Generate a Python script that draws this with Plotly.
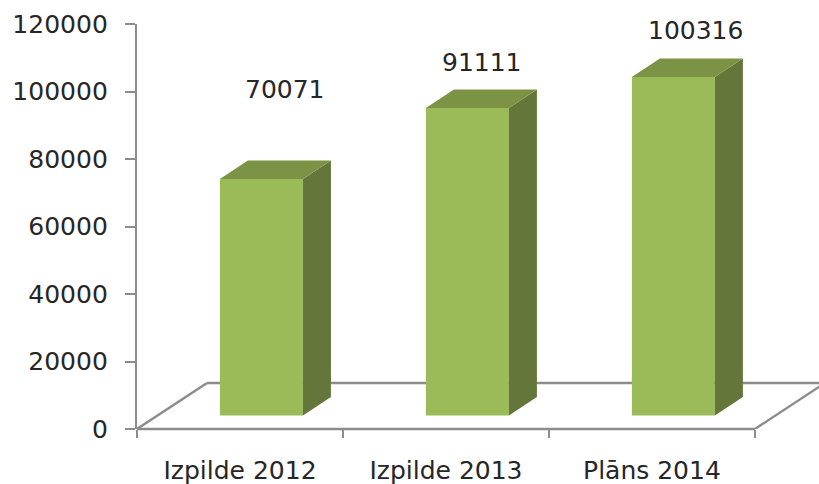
import plotly.graph_objects as go

categories = ["Izpilde 2012", "Izpilde 2013", "Plāns 2014"]
values = [70071, 91111, 100316]
y_ticks = [0, 20000, 40000, 60000, 80000, 100000, 120000]
cat_boundaries = [-0.5, 0.5, 1.5, 2.5]

# pseudo-3D geometry, in axis units
BASE = 4000
BAR_SHIFT = 0.104
BAR_W = 0.403
DEPTH_X = 0.136
DEPTH_Y = 5480
FLOOR_X = 0.34
FLOOR_Y = 13630
X_END = 2.811

FRONT, SIDE, TOP = "#9BBB59", "#64763A", "#7C9345"
AXIS = "#8C8C8C"
TEXT = "#262626"
FONT = "DejaVu Sans"
FS = 25

idx = list(range(len(categories)))
centres = [i + BAR_SHIFT for i in idx]

side_x, side_y, top_x, top_y = [], [], [], []
for c, v in zip(centres, values):
    r, l, t = c + BAR_W / 2, c - BAR_W / 2, BASE + v
    side_x += [r, r + DEPTH_X, r + DEPTH_X, r, r, None]
    side_y += [BASE, BASE + DEPTH_Y, t + DEPTH_Y, t, BASE, None]
    top_x += [l, r, r + DEPTH_X, l + DEPTH_X, l, None]
    top_y += [t, t, t + DEPTH_Y, t + DEPTH_Y, t, None]

fig = go.Figure()
fig.add_trace(go.Bar(x=centres, y=values, base=BASE, width=BAR_W,
                     marker=dict(color=FRONT, line=dict(width=0)), hoverinfo="skip"))
for xs, ys, col in ((side_x, side_y, SIDE), (top_x, top_y, TOP)):
    fig.add_trace(go.Scatter(x=xs, y=ys, mode="lines", fill="toself", fillcolor=col,
                             line=dict(width=0, color=col), hoverinfo="skip"))

line = dict(color=AXIS, width=2.4)
shapes = [
    dict(type="line", xref="x", yref="paper", x0=-0.5, x1=2.5, y0=0, y1=0, line=line, layer="below"),
    dict(type="line", xref="x", yref="y", x0=-0.5, y0=0, x1=-0.5 + FLOOR_X, y1=FLOOR_Y, line=line, layer="below"),
    dict(type="line", xref="x", yref="y", x0=-0.5 + FLOOR_X, y0=FLOOR_Y, x1=X_END, y1=FLOOR_Y, line=line, layer="below"),
    dict(type="line", xref="x", yref="y", x0=2.5, y0=0, x1=2.5 + FLOOR_X, y1=FLOOR_Y, line=line, layer="below"),
]

label_shift = [(24, 103), (14.5, 59.5), (22, 60)]
annotations = [
    dict(x=i, y=v, xref="x", yref="y", text=str(v), showarrow=False,
         xshift=s[0] + 21.5, yshift=s[1],
         font=dict(family=FONT, size=FS, color=TEXT))
    for i, v, s in zip(idx, values, label_shift)
]

fig.update_layout(
    width=819, height=484, autosize=False, showlegend=False,
    margin=dict(l=137, r=0, t=24, b=55),
    paper_bgcolor="white", plot_bgcolor="white",
    shapes=shapes, annotations=annotations,
    xaxis=dict(range=[-0.5, X_END], tickmode="array", tickvals=idx, ticktext=categories,
               ticks="", showgrid=False, zeroline=False, showline=False,
               tickfont=dict(family=FONT, size=FS, color=TEXT), ticklabelstandoff=24,
               minor=dict(tickmode="array", tickvals=cat_boundaries, ticks="outside",
                          ticklen=8, tickwidth=2.4, tickcolor=AXIS, showgrid=False)),
    yaxis=dict(range=[0, 120000], tickmode="array", tickvals=y_ticks, tickformat="d",
               ticks="outside", ticklen=10, tickwidth=2.4, tickcolor=AXIS,
               showline=True, linecolor=AXIS, linewidth=2.4, showgrid=False, zeroline=False,
               tickfont=dict(family=FONT, size=FS, color=TEXT), ticklabelstandoff=12),
)
fig.write_html("out.html", config=dict(displayModeBar=False),
               post_script="document.body.style.margin='0';document.documentElement.style.overflow='hidden';")
